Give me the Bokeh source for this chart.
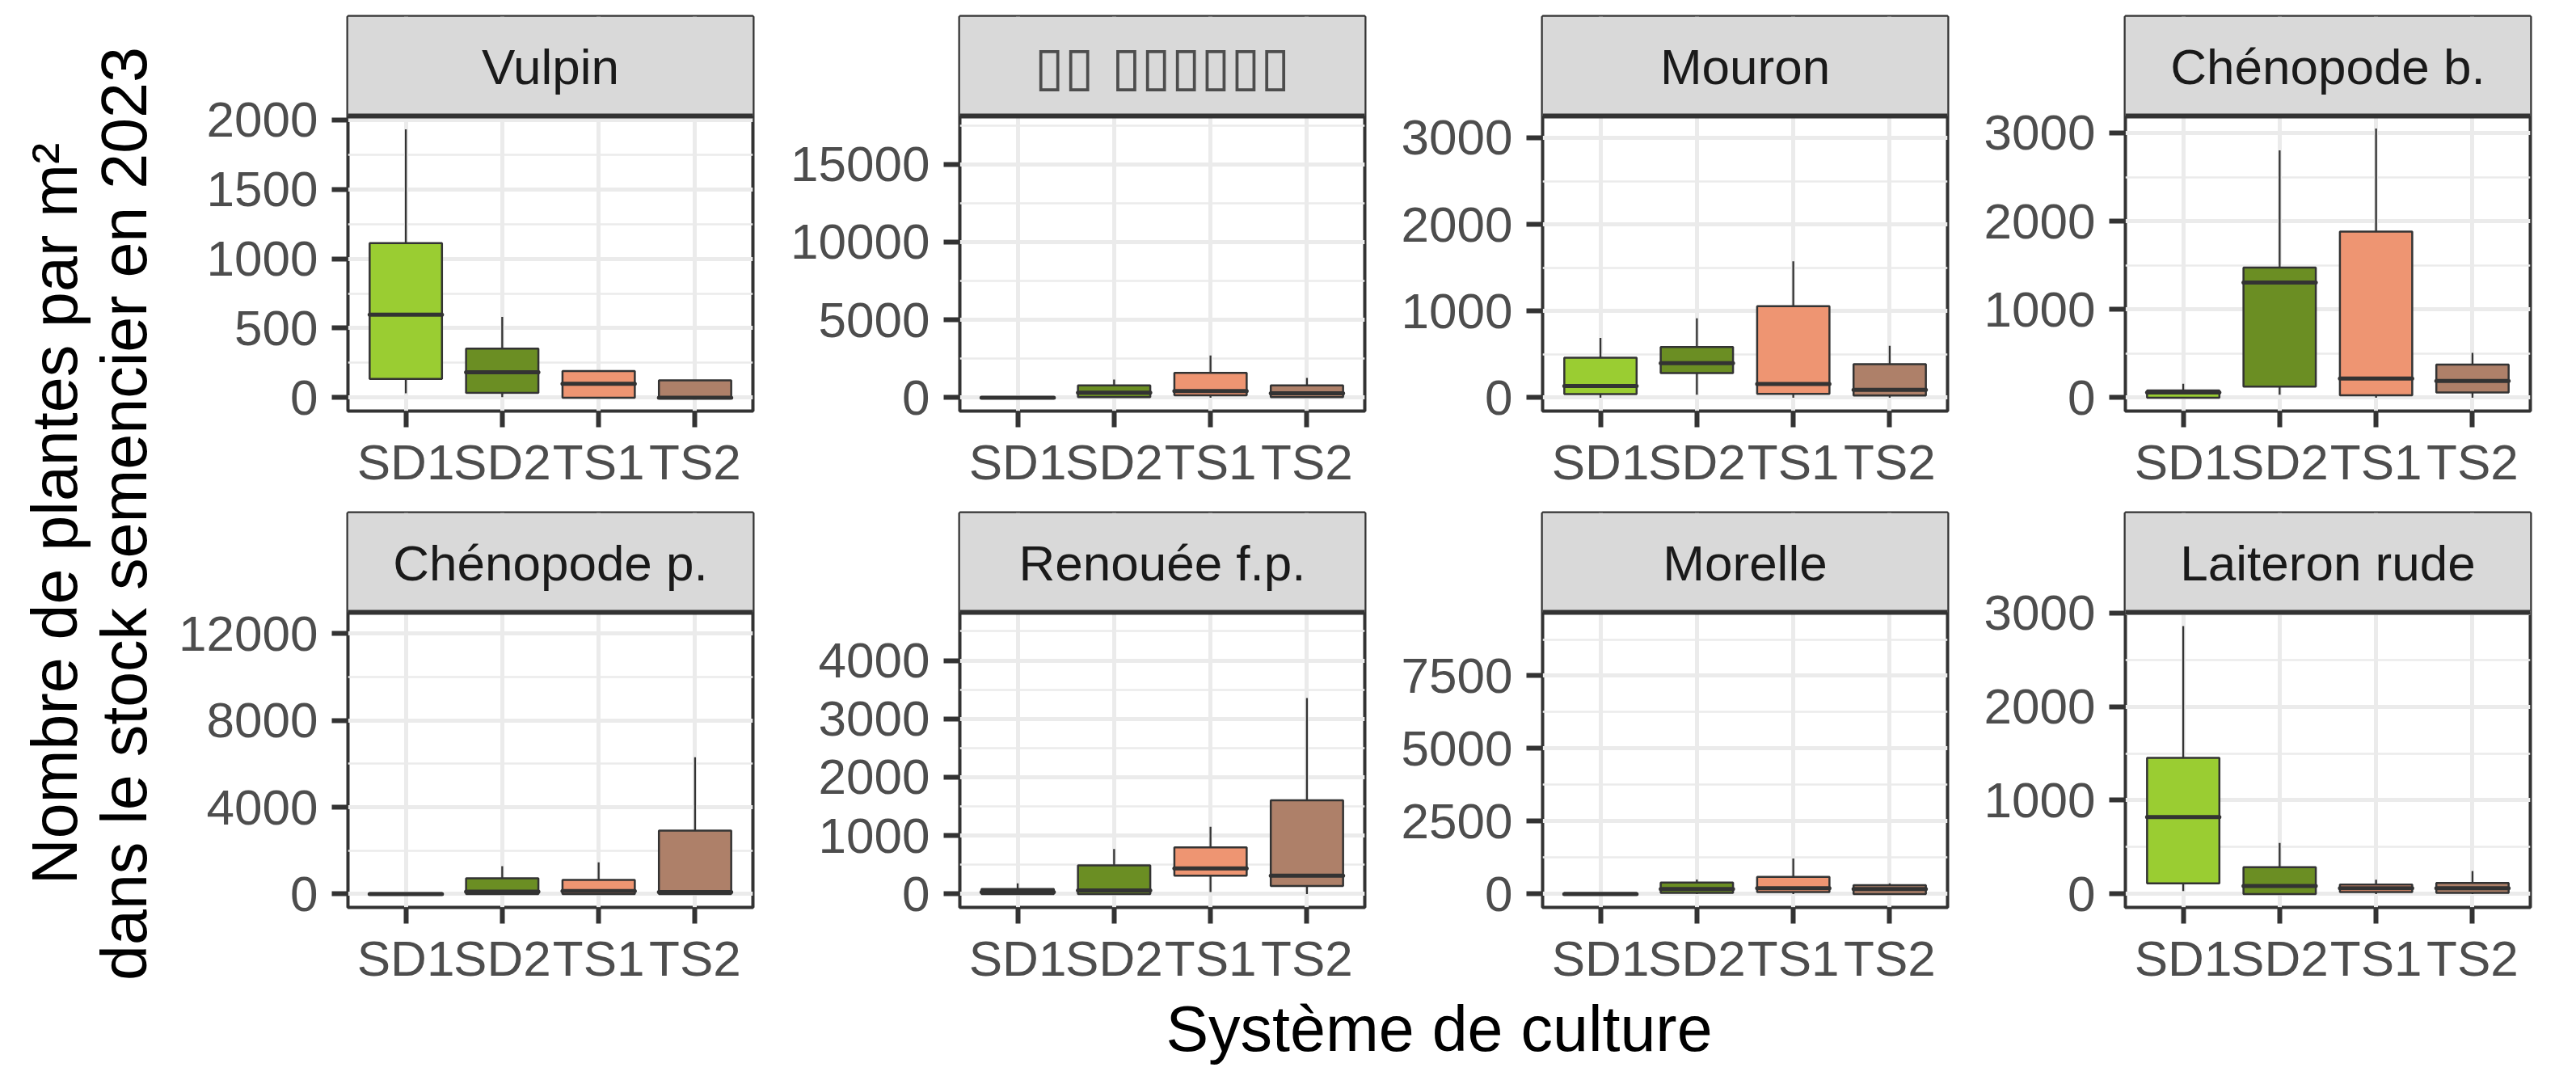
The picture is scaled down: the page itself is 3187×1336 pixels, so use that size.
import math
from bokeh.plotting import figure
from bokeh.layouts import row, column
from bokeh.models import (Range1d, FixedTicker, ColumnDataSource, Span, BasicTickFormatter,
                          BoxAnnotation, Label)
from bokeh.core.properties import value
from bokeh.embed import file_html
from bokeh.resources import INLINE

# ---------------- data ----------------
systems = ["SD1", "SD2", "TS1", "TS2"]
system_colors = ["#9ACD32", "#6B8E23", "#EE9572", "#AE8069"]

species = ["Vulpin", "\u25AF\u25AF \u25AF\u25AF\u25AF\u25AF\u25AF\u25AF", "Mouron", "Chénopode b.",
           "Chénopode p.", "Renouée f.p.", "Morelle", "Laiteron rude"]

# box statistics per species (rows) and system (columns SD1, SD2, TS1, TS2)
whisker_low = [
    [31, 4, 0, 0],
    [0, 0, 0, 0],
    [0, 34, 0, 0],
    [0, 33, 0, 0],
    [0, 0, 0, 0],
    [0, 0, 33, 0],
    [0, 0, 0, 0],
    [32, 0, 0, 0],
]
quart1 = [
    [135, 35, 0, 0],
    [0, 37, 150, 37],
    [40, 283, 44, 24],
    [0, 125, 26, 59],
    [0, 0, 0, 0],
    [0, 0, 314, 137],
    [0, 39, 66, 0],
    [113, 0, 20, 12],
]
medians = [
    [598, 183, 100, 0],
    [0, 320, 430, 281],
    [135, 397, 158, 91],
    [59, 1305, 216, 190],
    [0, 106, 141, 88],
    [33, 60, 439, 314],
    [0, 171, 197, 171],
    [820, 85, 61, 61],
]
quart3 = [
    [1113, 353, 191, 125],
    [30, 787, 1592, 787],
    [461, 585, 1056, 387],
    [82, 1475, 1882, 374],
    [30, 722, 652, 2925],
    [85, 491, 799, 1604],
    [30, 394, 591, 302],
    [1453, 287, 101, 117],
]
whisker_high = [
    [1931, 581, 197, 125],
    [40, 1161, 2715, 1273],
    [690, 915, 1574, 599],
    [157, 2803, 3049, 508],
    [40, 1286, 1463, 6308],
    [183, 772, 1152, 3358],
    [40, 499, 1222, 368],
    [2858, 545, 153, 246],
]
# largest value of each panel (outliers are not drawn but set the scale)
panel_max = [1931, 17245, 3097, 3040, 12366, 4595, 9220, 2862]

y_major_ticks = [
    [0, 500, 1000, 1500, 2000],
    [0, 5000, 10000, 15000],
    [0, 1000, 2000, 3000],
    [0, 1000, 2000, 3000],
    [0, 4000, 8000, 12000],
    [0, 1000, 2000, 3000, 4000],
    [0, 2500, 5000, 7500],
    [0, 1000, 2000, 3000],
]
y_minor_ticks = [
    [250, 750, 1250, 1750],
    [2500, 7500, 12500, 17500],
    [500, 1500, 2500],
    [500, 1500, 2500],
    [2000, 6000, 10000],
    [500, 1500, 2500, 3500, 4500],
    [1250, 3750, 6250, 8750],
    [500, 1500, 2500],
]

x_title = "Système de culture"
y_title_lines = ["Nombre de plantes par m²", "dans le stock semencier en 2023"]

# ---------------- style / layout ----------------
FONT = "Liberation Sans"
DARK = "#333333"
GRID = "#EBEBEB"
FRAME_W, STRIP_H, PLOT_H = 501, 123, 365
LEFTS = [230, 252, 216, 216]
RIGHTS = [4, 4, 4, 20]
ROW_TOP = [20, 4]
ROW_BOTTOM = [122, 102]
YT_W = 200
BOX_W = 0.75
TITLE_SIZE = 79


def panel_fig(i, col, rowi):
    top_pad, bottom_pad = ROW_TOP[rowi], ROW_BOTTOM[rowi]
    m = panel_max[i]
    lo, hi = -0.05 * m, 1.05 * m
    strip_top = hi + (hi - lo) * STRIP_H / PLOT_H
    p = figure(width=LEFTS[col] + FRAME_W + RIGHTS[col],
               height=top_pad + STRIP_H + PLOT_H + bottom_pad,
               x_range=Range1d(0.4, 4.6), y_range=Range1d(lo, strip_top),
               min_border_left=LEFTS[col], min_border_right=RIGHTS[col],
               min_border_top=top_pad, min_border_bottom=bottom_pad,
               output_backend="svg", toolbar_location=None)
    p.background_fill_color = "white"
    p.border_fill_color = "white"
    p.outline_line_color = DARK
    p.outline_line_width = 4

    xt = FixedTicker(ticks=[k + 1 for k in range(len(systems))], minor_ticks=[])
    yt = FixedTicker(ticks=y_major_ticks[i], minor_ticks=y_minor_ticks[i])
    p.xaxis.ticker = xt
    p.yaxis.ticker = yt
    p.xgrid.ticker = xt
    p.ygrid.ticker = yt
    p.xaxis.major_label_overrides = {k + 1: s for k, s in enumerate(systems)}
    p.yaxis.formatter = BasicTickFormatter(use_scientific=False)

    p.xgrid.grid_line_color = GRID
    p.xgrid.grid_line_width = 5
    p.ygrid.grid_line_color = GRID
    p.ygrid.grid_line_width = 5
    p.ygrid.minor_grid_line_color = GRID
    p.ygrid.minor_grid_line_width = 2.5

    for ax in p.axis:
        ax.axis_line_color = None
        ax.major_tick_line_color = DARK
        ax.major_tick_line_width = 6
        ax.major_tick_out = 20
        ax.major_tick_in = 0
        ax.minor_tick_line_color = None
        ax.major_label_text_font = FONT
        ax.major_label_text_font_size = "62px"
        ax.major_label_text_color = "#4D4D4D"
    p.yaxis.major_label_standoff = 17
    p.xaxis.major_label_standoff = 8

    xs = [k + 1 for k in range(len(systems))]
    src = ColumnDataSource(dict(
        x=xs,
        xl=[x - BOX_W / 2 for x in xs],
        xr=[x + BOX_W / 2 for x in xs],
        lw=whisker_low[i], q1=quart1[i], med=medians[i], q3=quart3[i], uw=whisker_high[i],
        color=system_colors,
    ))
    p.segment(x0="x", y0="lw", x1="x", y1="q1", source=src, line_color=DARK, line_width=2.3)
    p.segment(x0="x", y0="q3", x1="x", y1="uw", source=src, line_color=DARK, line_width=2.3)
    p.vbar(x="x", width=BOX_W, bottom="q1", top="q3", source=src,
           fill_color="color", line_color=DARK, line_width=2.5)
    p.segment(x0="xl", y0="med", x1="xr", y1="med", source=src,
              line_color=DARK, line_width=5, line_cap="round")

    # facet strip
    p.add_layout(BoxAnnotation(bottom=hi, fill_color="#D9D9D9", fill_alpha=1.0, line_color=None))
    p.add_layout(Span(location=hi, dimension="width", line_color=DARK, line_width=6))
    tofu = species[i].startswith("\u25AF")
    p.add_layout(Label(x=2.5, y=(hi + strip_top) / 2, text=species[i],
                       text_align="center", text_baseline="middle",
                       text_font="DejaVu Sans" if tofu else FONT,
                       text_font_size="67px" if tofu else "62px",
                       text_color="#4D4D4D" if tofu else "#1A1A1A"))
    return p


rows = []
for rowi in range(2):
    rows.append(row(*[panel_fig(rowi * 4 + col, col, rowi) for col in range(4)], spacing=0))

grid_h = sum(ROW_TOP) + sum(ROW_BOTTOM) + 2 * (STRIP_H + PLOT_H)
grid_w = YT_W + sum(LEFTS) + 4 * FRAME_W + sum(RIGHTS)

# y axis title (two rotated lines)
yt_fig = figure(width=YT_W, height=grid_h, x_range=Range1d(0, YT_W), y_range=Range1d(0, grid_h),
                x_axis_location=None, y_axis_location=None,
                min_border=0, output_backend="svg", toolbar_location=None)
yt_fig.grid.visible = False
yt_fig.outline_line_color = None
yt_fig.text(x=[67, 153], y=[grid_h - 635] * 2, text=y_title_lines, angle=math.pi / 2,
            text_align="center", text_baseline="middle",
            text_font=value(FONT), text_font_size=f"{TITLE_SIZE}px", text_color="black")

# x axis title
XT_H = 1320 - grid_h
xt_fig = figure(width=grid_w, height=XT_H, x_range=Range1d(0, grid_w), y_range=Range1d(0, XT_H),
                x_axis_location=None, y_axis_location=None,
                min_border=0, output_backend="svg", toolbar_location=None)
xt_fig.grid.visible = False
xt_fig.outline_line_color = None
panels_left = YT_W + LEFTS[0]
panels_right = grid_w - RIGHTS[3]
xt_fig.text(x=[(panels_left + panels_right) / 2], y=[XT_H / 2], text=[x_title],
            text_align="center", text_baseline="middle",
            text_font=value(FONT), text_font_size=f"{TITLE_SIZE}px", text_color="black")

layout = column(row(yt_fig, column(*rows, spacing=0), spacing=0), xt_fig, spacing=0)

open("out.html", "w").write(file_html(layout, INLINE))
